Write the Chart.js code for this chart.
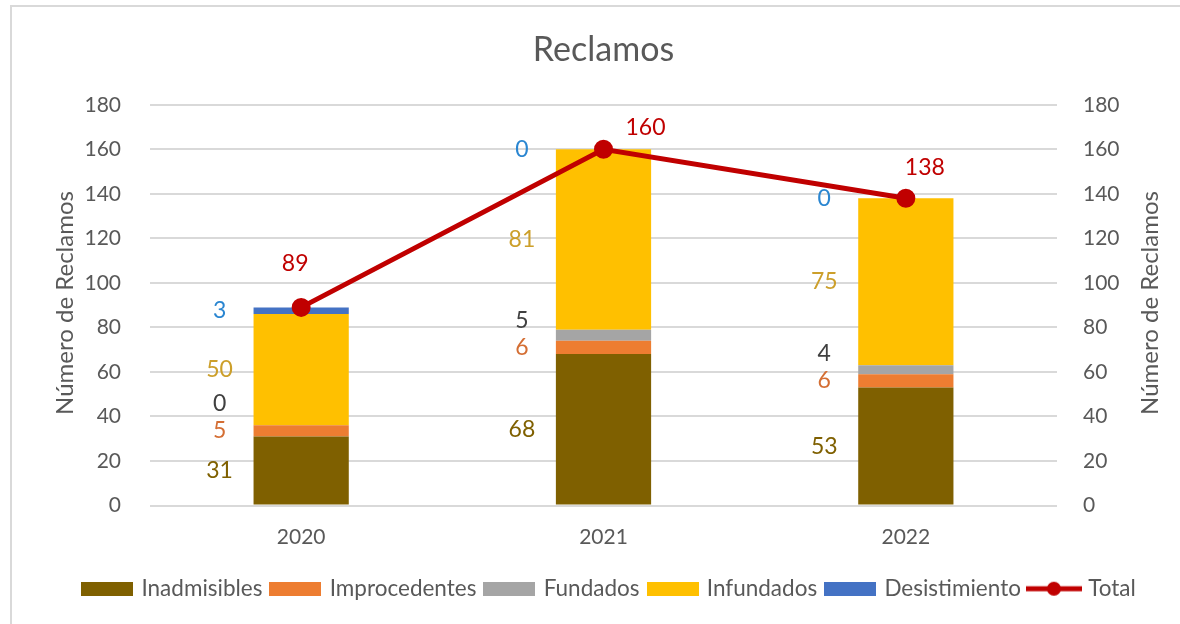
<!DOCTYPE html>
<html>
<head>
<meta charset="utf-8">
<script src="https://cdn.jsdelivr.net/npm/chart.js@4/dist/chart.umd.min.js"></script>
<style>
  html, body { margin: 0; padding: 0; background: #ffffff; }
  #wrap { position: relative; width: 1180px; height: 624px; overflow: hidden; }
  #frame { position: absolute; left: 10px; top: 5px; width: 1200px; height: 700px; border: 2px solid #D9D9D9; box-sizing: border-box; pointer-events: none; }
  canvas { position: absolute; left: 0; top: 0; }
</style>
</head>
<body>
<div id="wrap">
  <canvas id="c" width="1180" height="624"></canvas>
  <div id="frame"></div>
</div>
<script>
const categories = ['2020', '2021', '2022'];
const inadmisibles = [31, 68, 53];
const improcedentes = [5, 6, 6];
const fundados = [0, 5, 4];
const infundados = [50, 81, 75];
const desistimiento = [3, 0, 0];
const total = [89, 160, 138];
const yTicks = [0, 20, 40, 60, 80, 100, 120, 140, 160, 180];
const titleText = 'Reclamos';
const axisTitle = 'Número de Reclamos';

const FONT = 'Lato, "Open Sans", "Liberation Sans", sans-serif';
const TXT = '#595959';

function boxImg(color) {
  const c = document.createElement('canvas');
  c.width = 52; c.height = 14;
  const x = c.getContext('2d');
  x.fillStyle = color; x.fillRect(0, 0, 52, 14);
  return c;
}
function lineImg(color) {
  const c = document.createElement('canvas');
  c.width = 56; c.height = 16;
  const x = c.getContext('2d');
  x.fillStyle = color;
  x.fillRect(0, 5.5, 56, 5);
  x.beginPath(); x.arc(28, 8, 7, 0, Math.PI * 2); x.fill();
  return c;
}

const series = [
  { label: 'Inadmisibles', data: inadmisibles, color: '#7F6000', labelColor: '#7F6000' },
  { label: 'Improcedentes', data: improcedentes, color: '#ED7D31', labelColor: '#D46E33' },
  { label: 'Fundados', data: fundados, color: '#A5A5A5', labelColor: '#404040' },
  { label: 'Infundados', data: infundados, color: '#FFC000', labelColor: '#CC9F2A' },
  { label: 'Desistimiento', data: desistimiento, color: '#4472C4', labelColor: '#2A86D1' }
];

const datasets = series.map(s => ({
  type: 'bar',
  label: s.label,
  data: s.data,
  backgroundColor: s.color,
  borderWidth: 0,
  stack: 'bars',
  yAxisID: 'y',
  order: 1,
  barPercentage: 1,
  categoryPercentage: 0.315,
  labelColor: s.labelColor,
  legendImg: boxImg(s.color)
}));
datasets.push({
  type: 'line',
  label: 'Total',
  data: total,
  borderColor: '#C00000',
  backgroundColor: '#C00000',
  borderWidth: 5,
  pointRadius: 7,
  pointHoverRadius: 7,
  pointBackgroundColor: '#C00000',
  pointBorderColor: '#C00000',
  yAxisID: 'y1',
  order: -1,
  legendImg: lineImg('#C00000')
});

const labelsPlugin = {
  id: 'segLabels',
  afterDatasetsDraw(chart, args, opts) {
    const ctx = chart.ctx;
    const yS = chart.scales.y;
    ctx.save();
    ctx.font = '23px ' + FONT;
    ctx.textAlign = 'center';
    ctx.textBaseline = 'middle';
    categories.forEach((cat, i) => {
      let cum = 0;
      let prevY = null;
      series.forEach((s, k) => {
        const v = s.data[i];
        const bar = chart.getDatasetMeta(k).data[i];
        let y = yS.getPixelForValue(cum + v / 2);
        if (prevY !== null && y > prevY - opts.minGap) y = prevY - opts.minGap;
        prevY = y;
        cum += v;
        ctx.fillStyle = s.labelColor;
        ctx.fillText(String(v), bar.x - bar.width / 2 - opts.dx, y);
      });
      const p = chart.getDatasetMeta(series.length).data[i];
      const off = opts.totalOffsets[i];
      ctx.fillStyle = '#C00000';
      ctx.fillText(String(total[i]), p.x + off[0], p.y + off[1]);
    });
    ctx.restore();
  },
  afterDraw(chart) {
    const ctx = chart.ctx;
    const ca = chart.chartArea;
    ctx.save();
    ctx.fillStyle = TXT;
    ctx.textAlign = 'center';
    ctx.textBaseline = 'middle';
    ctx.font = '34px ' + FONT;
    ctx.fillText(titleText, (ca.left + ca.right) / 2, 50);
    ctx.font = '24px ' + FONT;
    [[65, 303], [1150, 303]].forEach(([x, y]) => {
      ctx.save();
      ctx.translate(x, y);
      ctx.rotate(-Math.PI / 2);
      ctx.fillText(axisTitle, 0, 0);
      ctx.restore();
    });
    ctx.restore();
  }
};

new Chart(document.getElementById('c'), {
  data: { labels: categories, datasets },
  options: {
    responsive: false,
    animation: false,
    layout: { padding: { left: 40, right: 0, top: 0, bottom: 14 } },
    plugins: {
      title: {
        display: true,
        text: titleText,
        color: 'rgba(0,0,0,0)',
        font: { family: FONT, size: 34, weight: 'normal' },
        padding: { top: 30, bottom: 34 }
      },
      legend: {
        position: 'bottom',
        labels: {
          color: TXT,
          font: { family: FONT, size: 22.5 },
          usePointStyle: true,
          pointStyleWidth: 46,
          boxHeight: 14,
          padding: 10,
          generateLabels(chart) {
            const items = Chart.defaults.plugins.legend.labels.generateLabels(chart);
            items.sort((a, b) => a.datasetIndex - b.datasetIndex);
            items.forEach(it => { it.pointStyle = chart.data.datasets[it.datasetIndex].legendImg; });
            return items;
          }
        }
      },
      tooltip: { enabled: false },
      segLabels: { minGap: 27, dx: 34, totalOffsets: [[-6, -44], [42, -22], [19, -31]] }
    },
    scales: {
      x: {
        stacked: true,
        grid: { display: false },
        border: { display: false },
        ticks: { color: TXT, font: { family: FONT, size: 21 }, padding: 11 },
        afterFit(s) { s.height = 62; }
      },
      y: {
        stacked: true,
        position: 'left',
        min: 0, max: 180,
        afterBuildTicks(s) { s.ticks = yTicks.map(v => ({ value: v })); },
        grid: { color: '#D9D9D9', lineWidth: 2, drawTicks: false },
        border: { display: false },
        ticks: { color: TXT, font: { family: FONT, size: 21 }, padding: 29 },
        afterFit(s) { s.width = 110; }
      },
      y1: {
        position: 'right',
        min: 0, max: 180,
        afterBuildTicks(s) { s.ticks = yTicks.map(v => ({ value: v })); },
        grid: { display: false, drawTicks: false },
        border: { display: false },
        ticks: { color: TXT, font: { family: FONT, size: 21 }, padding: 26 },
        afterFit(s) { s.width = 123; }
      }
    }
  },
  plugins: [labelsPlugin]
});
</script>
</body>
</html>
